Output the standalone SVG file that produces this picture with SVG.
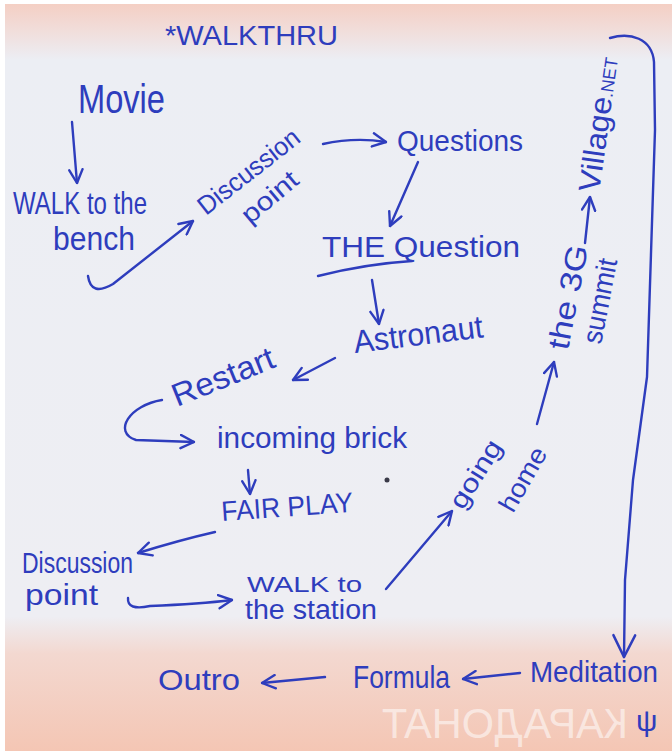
<svg xmlns="http://www.w3.org/2000/svg" width="672" height="751" viewBox="0 0 672 751">
<defs>
<linearGradient id="paper" x1="0" y1="0" x2="0" y2="1">
<stop offset="0" stop-color="#f4cfc4"/>
<stop offset="0.035" stop-color="#f1ddda"/>
<stop offset="0.075" stop-color="#eceef4"/>
<stop offset="0.82" stop-color="#eeeef3"/>
<stop offset="0.87" stop-color="#f3d8d0"/>
<stop offset="1" stop-color="#f4c6b4"/>
</linearGradient>
<marker id="ah" viewBox="0 0 12 12" refX="11" refY="6" markerWidth="16" markerHeight="16" markerUnits="userSpaceOnUse" orient="auto">
<path d="M1,1 L11,6 L1,11" fill="none" stroke="#2e3dbd" stroke-width="1.8" stroke-linecap="round" stroke-linejoin="round"/>
</marker>
<marker id="ahw" viewBox="0 0 12 12" refX="11" refY="6" markerWidth="26" markerHeight="30" markerUnits="userSpaceOnUse" orient="auto">
<path d="M1,1 L11,6 L1,11" fill="none" stroke="#2e3dbd" stroke-width="1.2" stroke-linecap="round" stroke-linejoin="round"/>
</marker>
</defs>
<style>
.ink{font-family:"Liberation Sans","DejaVu Sans",sans-serif;fill:#2e3dbd}
.c{fill:none;stroke:#2e3dbd;stroke-width:2.4;stroke-linecap:round;stroke-linejoin:round}
</style>
<rect width="672" height="751" fill="#ffffff"/>
<rect x="5" y="4" width="667" height="747" fill="url(#paper)"/>
<text transform="scale(-1,1)" x="-628" y="738" font-family="Liberation Sans, DejaVu Sans, sans-serif" font-size="42" fill="#ffffff" fill-opacity="0.55" textLength="246" lengthAdjust="spacingAndGlyphs">КАРАДОНАТ</text>

<g id="title"><text class="ink" x="165" y="45" font-size="28" textLength="173" lengthAdjust="spacingAndGlyphs">*WALKTHRU</text></g>
<g id="movie"><text class="ink" x="78" y="113" font-size="40" textLength="87" lengthAdjust="spacingAndGlyphs">Movie</text></g>
<g id="walk-bench"><text class="ink" x="13" y="214" font-size="32" textLength="134" lengthAdjust="spacingAndGlyphs">WALK to the</text>
<text class="ink" x="53" y="250" font-size="34" textLength="82" lengthAdjust="spacingAndGlyphs">bench</text></g>
<g id="discussion1"><text class="ink" transform="translate(206,216) rotate(-38)" font-size="26" textLength="122" lengthAdjust="spacingAndGlyphs">Discussion</text>
<text class="ink" transform="translate(250,225) rotate(-40)" font-size="26" textLength="66" lengthAdjust="spacingAndGlyphs">point</text></g>
<g id="questions"><text class="ink" x="397" y="151" font-size="30" textLength="126" lengthAdjust="spacingAndGlyphs">Questions</text></g>
<g id="the-question"><text class="ink" x="322" y="257" font-size="30" textLength="198" lengthAdjust="spacingAndGlyphs">THE Question</text>
<path class="c" d="M318,276 Q365,264 412,261"/></g>
<g id="astronaut"><text class="ink" transform="translate(355,353) rotate(-7)" font-size="32" textLength="130" lengthAdjust="spacingAndGlyphs">Astronaut</text></g>
<g id="restart"><text class="ink" transform="translate(177,407) rotate(-22)" font-size="32" textLength="108" lengthAdjust="spacingAndGlyphs">Restart</text></g>
<g id="incoming"><text class="ink" x="217" y="448" font-size="30" textLength="190" lengthAdjust="spacingAndGlyphs">incoming brick</text></g>
<circle cx="387" cy="480" r="2.5" fill="#3a3a48"/>
<g id="fairplay"><text class="ink" transform="translate(222,521) rotate(-4)" font-size="28" textLength="132" lengthAdjust="spacingAndGlyphs">FAIR PLAY</text></g>
<g id="discussion2"><text class="ink" x="22" y="573" font-size="30" textLength="111" lengthAdjust="spacingAndGlyphs">Discussion</text>
<text class="ink" x="25" y="605" font-size="30" textLength="73" lengthAdjust="spacingAndGlyphs">point</text></g>
<g id="walk-station"><text class="ink" x="247" y="592" font-size="22" textLength="115" lengthAdjust="spacingAndGlyphs">WALK to</text>
<text class="ink" x="245" y="619" font-size="27" textLength="132" lengthAdjust="spacingAndGlyphs">the station</text></g>
<g id="going-home"><text class="ink" transform="translate(463,511) rotate(-58)" font-size="26" textLength="76" lengthAdjust="spacingAndGlyphs">going</text>
<text class="ink" transform="translate(513,514) rotate(-60)" font-size="26" textLength="70" lengthAdjust="spacingAndGlyphs">home</text></g>
<g id="summit"><text class="ink" transform="translate(568,351) rotate(-79)" font-size="30" textLength="106" lengthAdjust="spacingAndGlyphs">the 3G</text>
<text class="ink" transform="translate(601,345) rotate(-79)" font-size="28" textLength="86" lengthAdjust="spacingAndGlyphs">summit</text></g>
<g id="village"><text class="ink" transform="translate(599,193) rotate(-82)" font-size="30"><tspan textLength="96" lengthAdjust="spacingAndGlyphs">Village</tspan><tspan font-size="18" textLength="40" lengthAdjust="spacingAndGlyphs">.NET</tspan></text></g>
<g id="meditation"><text class="ink" x="530" y="682" font-size="30" textLength="128" lengthAdjust="spacingAndGlyphs">Meditation</text></g>
<g id="formula"><text class="ink" x="353" y="688" font-size="32" textLength="97" lengthAdjust="spacingAndGlyphs">Formula</text></g>
<g id="outro"><text class="ink" x="158" y="690" font-size="30" textLength="82" lengthAdjust="spacingAndGlyphs">Outro</text></g>
<g id="mark"><text class="ink" x="636" y="731" font-size="30">ψ</text></g>

<g id="connectors">
<path class="c" marker-end="url(#ah)" d="M72,122 L77,183"/>
<path class="c" marker-end="url(#ah)" d="M88,276 Q91,297 113,284 L193,221"/>
<path class="c" marker-end="url(#ah)" d="M323,144 Q355,137 386,142"/>
<path class="c" marker-end="url(#ah)" d="M418,162 L390,226"/>
<path class="c" marker-end="url(#ah)" d="M372,280 L379,324"/>
<path class="c" marker-end="url(#ah)" d="M335,358 L293,380"/>
<path class="c" marker-end="url(#ah)" d="M162,400 C130,405 112,432 136,440 L194,442"/>
<path class="c" marker-end="url(#ah)" d="M248,470 L250,494"/>
<path class="c" marker-end="url(#ah)" d="M215,532 Q180,540 138,553"/>
<path class="c" marker-end="url(#ah)" d="M128,598 Q127,611 150,606 Q200,604 232,600"/>
<path class="c" marker-end="url(#ah)" d="M386,589 L452,511"/>
<path class="c" marker-end="url(#ah)" d="M537,424 L554,362"/>
<path class="c" marker-end="url(#ah)" d="M585,243 L590,197"/>
<path class="c" stroke-width="2" marker-end="url(#ahw)" d="M610,38 C630,32 652,38 654,62 L655,130 L647,377 L633,480 L625,580 L624,657"/>
<path class="c" marker-end="url(#ah)" d="M520,673 L463,679"/>
<path class="c" marker-end="url(#ah)" d="M325,677 L262,683"/>
</g>
</svg>
